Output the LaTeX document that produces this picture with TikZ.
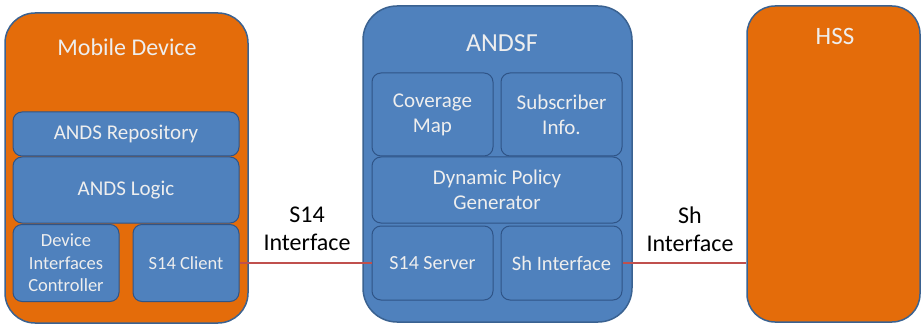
\documentclass[tikz,border=0pt]{standalone}
\usepackage{fontspec}
\setmainfont{Carlito}
\definecolor{org}{HTML}{E46C0A}
\definecolor{blu}{HTML}{4F81BD}
\definecolor{bord}{HTML}{3A6291}
\definecolor{ibord}{HTML}{2F5487}
\definecolor{lnk}{HTML}{C0504D}
\definecolor{wtxt}{HTML}{EEEEEE}
\begin{document}
\begin{tikzpicture}[x=1pt,y=-1pt,
  outer/.style={draw=bord,line width=1.5pt,rounded corners=30pt,inner sep=0pt},
  inner/.style={draw=ibord,line width=1pt,fill=blu,rounded corners=9pt,inner sep=0pt,text=wtxt,align=center},
  ttl/.style={text=wtxt,inner sep=0pt},
  lbl/.style={text=black,align=center,font=\fontsize{24}{28}\selectfont,inner sep=0pt},
  conn/.style={draw=lnk,line width=1.4pt}]
\useasboundingbox (0,0) rectangle (921,326);
% Mobile device
\node[outer,fill=org,minimum width=243pt,minimum height=310pt] (md) at (126.5,168) {};
\node[ttl,font=\fontsize{24}{28}\selectfont] (mdt) at (127,47) {Mobile Device};
\node[inner,minimum width=226pt,minimum height=44pt,font=\fontsize{21}{25}\selectfont] (repo) at (126,134) {ANDS Repository};
\node[inner,minimum width=226pt,minimum height=66pt,font=\fontsize{21}{25}\selectfont] (logic) at (126,190) {ANDS Logic};
\node[inner,minimum width=106pt,minimum height=77pt,font=\fontsize{18.5}{22.5}\selectfont] (dic) at (66,263) {Device\\Interfaces\\Controller};
\node[inner,minimum width=106pt,minimum height=77pt,font=\fontsize{18.5}{22}\selectfont] (s14c) at (186,263) {S14 Client};
% ANDSF
\node[outer,fill=blu,rounded corners=34pt,minimum width=269pt,minimum height=316pt] (andsf) at (497.5,164) {};
\node[ttl,font=\fontsize{26}{30}\selectfont] (andsft) at (502,43) {ANDSF};
\node[inner,minimum width=121pt,minimum height=83pt,font=\fontsize{21}{25}\selectfont] (cov) at (432.5,114.5) {Coverage\\Map};
\node[inner,minimum width=121pt,minimum height=83pt,font=\fontsize{21}{25}\selectfont] (sub) at (561.5,114.5) {Subscriber\\Info.};
\node[inner,minimum width=250pt,minimum height=66pt,font=\fontsize{21}{25}\selectfont] (dpg) at (497,190) {Dynamic Policy\\Generator};
\node[inner,minimum width=121pt,minimum height=74pt,font=\fontsize{20}{24}\selectfont] (s14s) at (432.5,263) {S14 Server};
\node[inner,minimum width=121pt,minimum height=74pt,font=\fontsize{20.5}{24}\selectfont] (shi) at (561.5,263) {Sh Interface};
% HSS
\node[outer,fill=org,rounded corners=28pt,minimum width=173pt,minimum height=316pt] (hss) at (833.5,164) {};
\node[ttl,font=\fontsize{25}{29}\selectfont] (hsst) at (835,36) {HSS};
% connectors
\draw[conn] (s14c.east) -- (s14s.west);
\draw[conn] (shi.east) -- (shi.east -| hss.west);
\node[lbl] (s14l) at (307,229) {S14\\Interface};
\node[lbl] (shl) at (690,229) {Sh\\Interface};
\end{tikzpicture}
\end{document}
